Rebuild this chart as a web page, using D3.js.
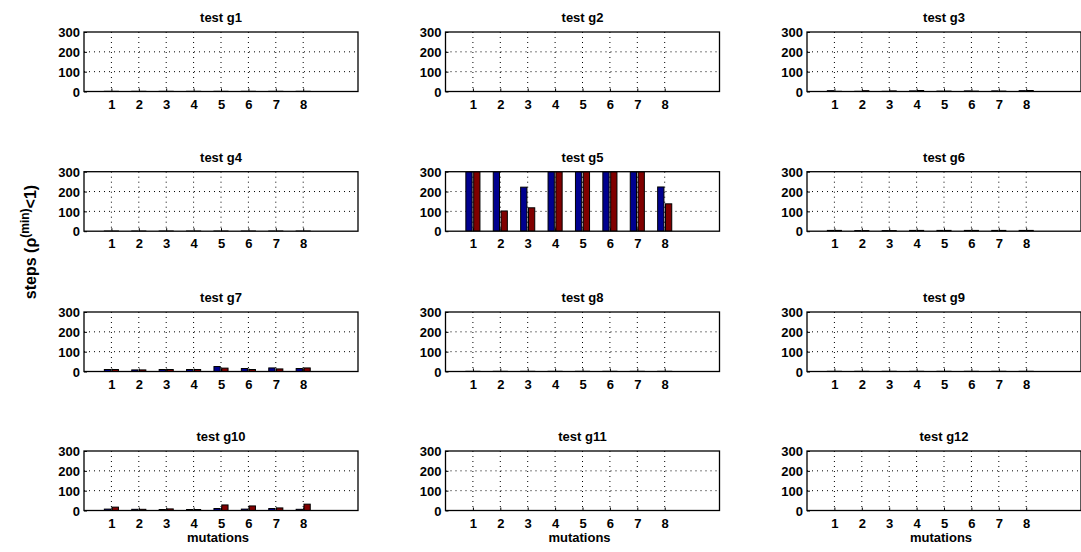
<!DOCTYPE html>
<html>
<head>
<meta charset="utf-8">
<script src="https://cdn.jsdelivr.net/npm/d3@7"></script>
<style>
  html, body { margin: 0; padding: 0; background: #fff; }
  svg { display: block; }
  text { font-family: "Liberation Sans", Arial, sans-serif; font-weight: bold; fill: #000; }
</style>
</head>
<body>
<svg id="chart" width="1081" height="552"></svg>
<script>
// ---- data ----
const mutations = [1, 2, 3, 4, 5, 6, 7, 8];
const panelTitles = ["test g1", "test g2", "test g3", "test g4", "test g5", "test g6",
                     "test g7", "test g8", "test g9", "test g10", "test g11", "test g12"];
const yTicks = [0, 100, 200, 300];
// first series (dark blue), one array per test
const blueSteps = [
  [1, 1, 1, 1, 1, 1, 1, 1],
  [0, 0, 0, 0, 0, 0, 0, 0],
  [4, 1, 1, 3, 2, 3, 3, 4],
  [1, 1, 1, 1, 1, 1, 1, 1],
  [300, 300, 222, 300, 300, 300, 300, 223],
  [4, 3, 3, 4, 4, 4, 4, 4],
  [10, 8, 10, 10, 25, 15, 18, 15],
  [1, 1, 1, 1, 1, 1, 1, 1],
  [1, 1, 1, 1, 1, 1, 1, 1],
  [7, 6, 5, 5, 10, 7, 10, 6],
  [0, 0, 0, 0, 0, 0, 0, 0],
  [0, 0, 0, 0, 0, 0, 0, 0]
];
// second series (dark red), one array per test
const redSteps = [
  [1, 1, 1, 1, 1, 1, 1, 1],
  [0, 0, 0, 0, 0, 0, 0, 0],
  [1, 4, 3, 5, 2, 2, 2, 5],
  [1, 1, 1, 1, 1, 1, 1, 1],
  [300, 102, 118, 300, 300, 300, 300, 138],
  [4, 3, 3, 4, 4, 4, 4, 4],
  [10, 8, 10, 10, 17, 10, 13, 18],
  [1, 1, 1, 1, 1, 1, 1, 1],
  [1, 1, 1, 1, 1, 1, 1, 1],
  [17, 6, 8, 5, 28, 23, 13, 32],
  [0, 0, 0, 0, 0, 0, 0, 0],
  [0, 0, 0, 0, 0, 0, 0, 0]
];
const seriesColors = ["#00008f", "#800000"];

// ---- layout ----
const svg = d3.select("#chart");
const colLeft = [84, 445.5, 807];
const rowTop = [32, 171.7, 312, 451];
const pw = 274, ph = 59.5;
const fs = "13px";

const x = d3.scaleLinear().domain([0, 10]).range([0, pw]);
const y = d3.scaleLinear().domain([0, 300]).range([ph, 0]);
const groupWidth = 2 / 3.5;          // MATLAB grouped bar geometry
const barW = groupWidth / 2 * 0.8;
const offsets = [-groupWidth / 4, groupWidth / 4];

svg.append("defs").selectAll("clipPath").data(panelTitles).join("clipPath")
  .attr("id", (d, i) => "clip" + i)
  .append("rect").attr("x", 0).attr("y", 0).attr("width", pw).attr("height", ph);

panelTitles.forEach((title, i) => {
  const col = i % 3, row = Math.floor(i / 3);
  const g = svg.append("g").attr("transform", `translate(${colLeft[col]},${rowTop[row]})`);

  // grid
  g.append("g").selectAll("line.vg").data(mutations).join("line")
    .attr("x1", d => x(d)).attr("x2", d => x(d)).attr("y1", 0).attr("y2", ph)
    .attr("stroke", "#000").attr("stroke-width", 1).attr("stroke-dasharray", "1,4");
  g.append("g").selectAll("line.hg").data([100, 200]).join("line")
    .attr("x1", 0).attr("x2", pw).attr("y1", d => y(d)).attr("y2", d => y(d))
    .attr("stroke", "#000").attr("stroke-width", 1).attr("stroke-dasharray", "1,4");

  // bars
  const bars = g.append("g").attr("clip-path", `url(#clip${i})`);
  [blueSteps[i], redSteps[i]].forEach((vals, s) => {
    bars.selectAll("rect.s" + s).data(vals).join("rect")
      .attr("class", "s" + s)
      .attr("x", (d, k) => x(mutations[k] + offsets[s] - barW / 2))
      .attr("width", x(barW) - x(0))
      .attr("y", d => y(d))
      .attr("height", d => ph - y(d))
      .attr("fill", seriesColors[s])
      .attr("stroke", "#000").attr("stroke-width", 1);
  });

  // axes (inward ticks, MATLAB style)
  const xAxis = d3.axisBottom(x).tickValues(mutations).tickSize(-3).tickPadding(8).tickFormat(d3.format("d"));
  const yAxis = d3.axisLeft(y).tickValues(yTicks).tickSize(-3).tickPadding(4);
  const gx = g.append("g").attr("transform", `translate(0,${ph})`).call(xAxis);
  const gy = g.append("g").call(yAxis);
  [gx, gy].forEach(a => {
    a.select(".domain").remove();
    a.selectAll("text").style("font-size", fs).style("font-weight", "bold")
      .style("font-family", '"Liberation Sans", Arial, sans-serif').attr("fill", "#000");
    a.selectAll("line").attr("stroke", "#000");
  });
  gy.selectAll("text").attr("dy", "0.36em");

  // box
  g.append("rect").attr("x", 0).attr("y", 0).attr("width", pw).attr("height", ph)
    .attr("fill", "none").attr("stroke", "#000").attr("stroke-width", 1.3);

  // title
  g.append("text").attr("x", pw / 2).attr("y", -10).attr("text-anchor", "middle")
    .style("font-size", fs).text(title);

  if (row === 3) {
    g.append("text").attr("x", x(5) - 3).attr("y", ph + 31).attr("text-anchor", "middle")
      .style("font-size", fs).text("mutations");
  }
});

// y axis label
const yl = svg.append("text")
  .attr("transform", "translate(36,242) rotate(-90)")
  .attr("text-anchor", "middle")
  .style("font-size", "16px");
yl.append("tspan").text("steps (ρ");
yl.append("tspan").attr("dy", "-0.55em").style("font-size", "12px").text("(min)");
yl.append("tspan").attr("dy", "0.41em").text("<1)");
</script>
</body>
</html>
